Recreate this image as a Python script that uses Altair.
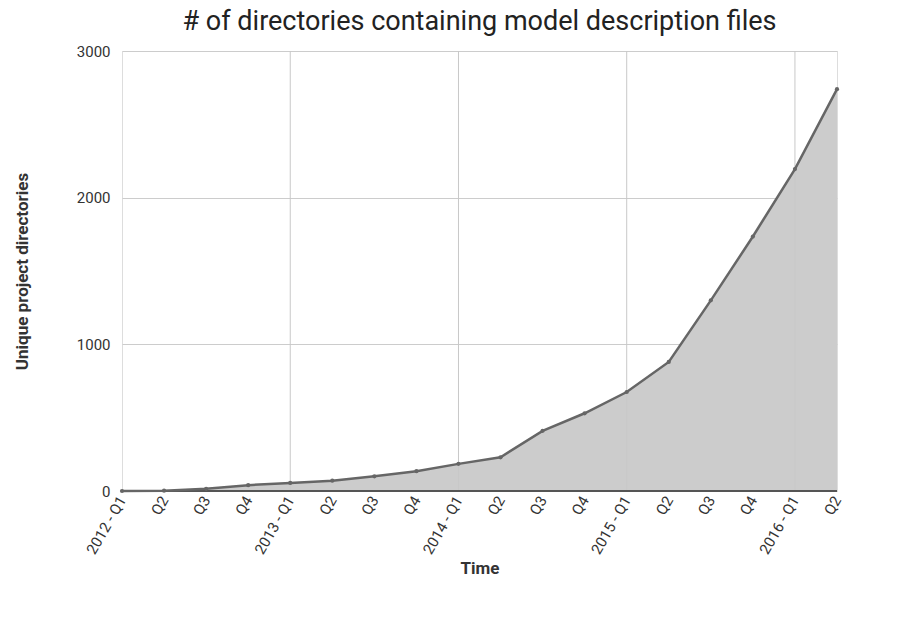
import altair as alt
import pandas as pd

labels = ["2012 - Q1", "Q2", "Q3", "Q4", "2013 - Q1", "Q2", "Q3", "Q4",
          "2014 - Q1", "Q2", "Q3", "Q4", "2015 - Q1", "Q2", "Q3", "Q4",
          "2016 - Q1", "Q2"]
counts = [0, 2, 15, 40, 55, 70, 100, 135, 185, 230, 410, 530, 675, 880,
          1300, 1735, 2195, 2740]
year_starts = [4, 8, 12, 16]

df = pd.DataFrame({"i": list(range(len(counts))), "count": counts})
label_js = "[" + ",".join(f"'{l}'" for l in labels) + "]"

x = alt.X("i:Q", title="Time", scale=alt.Scale(domain=[0, len(counts) - 1], nice=False),
          axis=alt.Axis(values=list(range(len(counts))), labelExpr=f"{label_js}[datum.value]",
                        labelAngle=-60, labelAlign="right", labelBaseline="middle",
                        labelOverlap=False, labelBound=False,
                        grid=False, ticks=False, domain=False,
                        labelFontSize=15, titleFontSize=17, titleFontWeight="bold",
                        labelColor="#333", titleColor="#333", labelPadding=6))
y = alt.Y("count:Q", title="Unique project directories",
          scale=alt.Scale(domain=[0, 3000]),
          axis=alt.Axis(values=[0, 1000, 2000, 3000], format="d", gridColor="#ccc",
                        ticks=False, domain=False, labelFontSize=15, titleFontSize=17,
                        titleFontWeight="bold", labelColor="#333", titleColor="#333",
                        labelPadding=12, titlePadding=45))

base = alt.Chart(df)
area = base.mark_area(color="#cccccc", opacity=1).encode(x=x, y=y)
rules = alt.Chart(pd.DataFrame({"i": year_starts})).mark_rule(
    color="#c8c8c8", strokeWidth=1).encode(x="i:Q")
line = base.mark_line(color="#666", strokeWidth=2.5,
                      point=alt.OverlayMarkDef(color="#666", size=18)).encode(x="i:Q", y="count:Q")
bottom = alt.Chart(pd.DataFrame({"c": [0]})).mark_rule(color="#555", strokeWidth=2).encode(y="c:Q")

chart = (area + rules + bottom + line).properties(
    width=715, height=440,
    padding={"left": 5, "top": 0, "right": 5, "bottom": 5},
    title=alt.Title("# of directories containing model description files",
                    fontSize=27, fontWeight="normal", color="#222", font="Roboto",
                    offset=8),
).configure_view(stroke=None).configure(font="Roboto")

chart.save("out.html", embed_options={"renderer": "svg", "actions": False})
